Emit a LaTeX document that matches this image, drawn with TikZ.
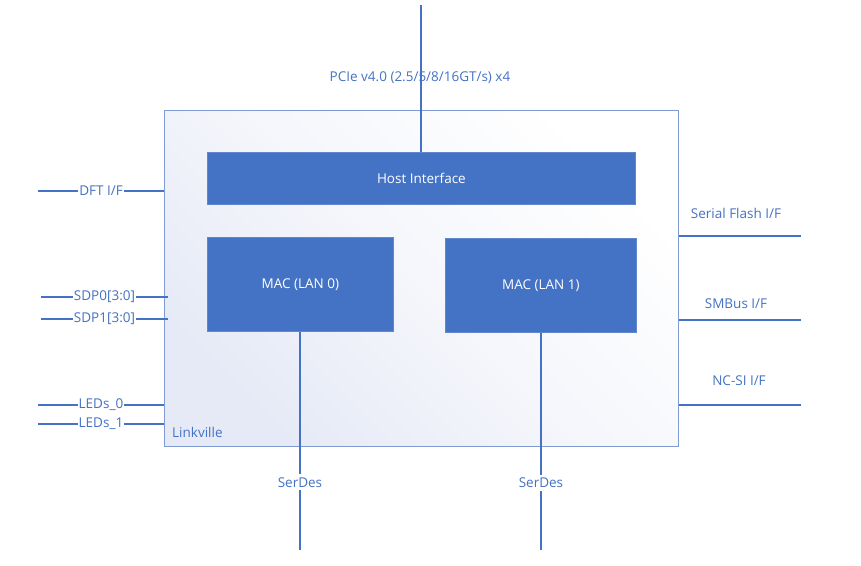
\documentclass[tikz,border=0pt]{standalone}
\usepackage{fontspec}
\setmainfont{Open Sans}
\usetikzlibrary{positioning}
\definecolor{mblue}{HTML}{4472C4}
\definecolor{mframe}{HTML}{7F9BD4}
\definecolor{mshade}{HTML}{E6EAF6}
\tikzset{sig/.style = {draw=mblue, line width=1.1pt}}
\tikzset{lbl/.style = {text=mblue, font=\fontsize{13.5}{16}\selectfont, inner sep=1pt}}
\tikzset{port/.style = {fill=white}}
\tikzset{block/.style = {fill=mblue, draw=mblue!85!white, line width=0.8pt, text=white,
                         font=\fontsize{13.5}{16}\selectfont, anchor=north west}}
\tikzset{chipbox/.style = {draw=mframe, line width=1pt, top color=white, bottom color=mshade,
                           middle color=white!60!mshade, shading angle=-45, anchor=north west}}

\begin{document}
\begin{tikzpicture}[x=1pt, y=-1pt]
    \useasboundingbox (0,0) rectangle (861,565);

    \node [chipbox, minimum width=514pt, minimum height=336pt] (chip) at (164,110) {};
    \node [lbl, anchor=west] (chipname) at (171,432) {Linkville};

    \node [block, minimum width=428pt, minimum height=52pt] (host) at (207,152) {Host Interface};
    \node [block, minimum width=186pt, minimum height=94pt] (mac0) at (207,237) {MAC (LAN 0)};
    \node [block, minimum width=191pt, minimum height=94pt] (mac1) at (445,238) {MAC (LAN 1)};

    \coordinate (pcie) at (421,5);
    \draw [sig] (pcie) -- (pcie |- host.north);
    \node [lbl] (pcielbl) at (420,78) {PCIe v4.0 (2.5/5/8/16GT/s) x4};

    \coordinate (dft) at (38,191);
    \coordinate (sdp0) at (41,297);
    \coordinate (sdp1) at (41,319);
    \coordinate (led0) at (38,405);
    \coordinate (led1) at (38,424);
    \draw [sig] (dft) -- (dft -| chip.west) node [lbl, port, midway] (dftlbl) {DFT I/F};
    \draw [sig] (sdp0) -- ++(127,0) node [lbl, port, midway] (sdp0lbl) {SDP0[3:0]};
    \draw [sig] (sdp1) -- ++(127,0) node [lbl, port, midway] (sdp1lbl) {SDP1[3:0]};
    \draw [sig] (led0) -- (led0 -| chip.west) node [lbl, port, midway] (led0lbl) {LEDs\_0};
    \draw [sig] (led1) -- (led1 -| chip.west) node [lbl, port, midway] (led1lbl) {LEDs\_1};

    \coordinate (sflash) at (801,236);
    \coordinate (smbus) at (801,320);
    \coordinate (ncsi) at (801,405);
    \draw [sig] (sflash -| chip.east) -- (sflash);
    \draw [sig] (smbus -| chip.east) -- (smbus);
    \draw [sig] (ncsi -| chip.east) -- (ncsi);
    \node [lbl] (sflashlbl) at (736,213) {Serial Flash I/F};
    \node [lbl] (smbuslbl) at (736,304) {SMBus I/F};
    \node [lbl] (ncsilbl) at (739,381) {NC-SI I/F};

    \coordinate (serdes0) at (300,550);
    \coordinate (serdes1) at (541,550);
    \draw [sig] (mac0.south -| serdes0) -- (serdes0) node [lbl, port, pos=0.69, inner sep=3pt] (serdes0lbl) {SerDes};
    \draw [sig] (mac1.south -| serdes1) -- (serdes1) node [lbl, port, pos=0.69, inner sep=3pt] (serdes1lbl) {SerDes};
\end{tikzpicture}
\end{document}
